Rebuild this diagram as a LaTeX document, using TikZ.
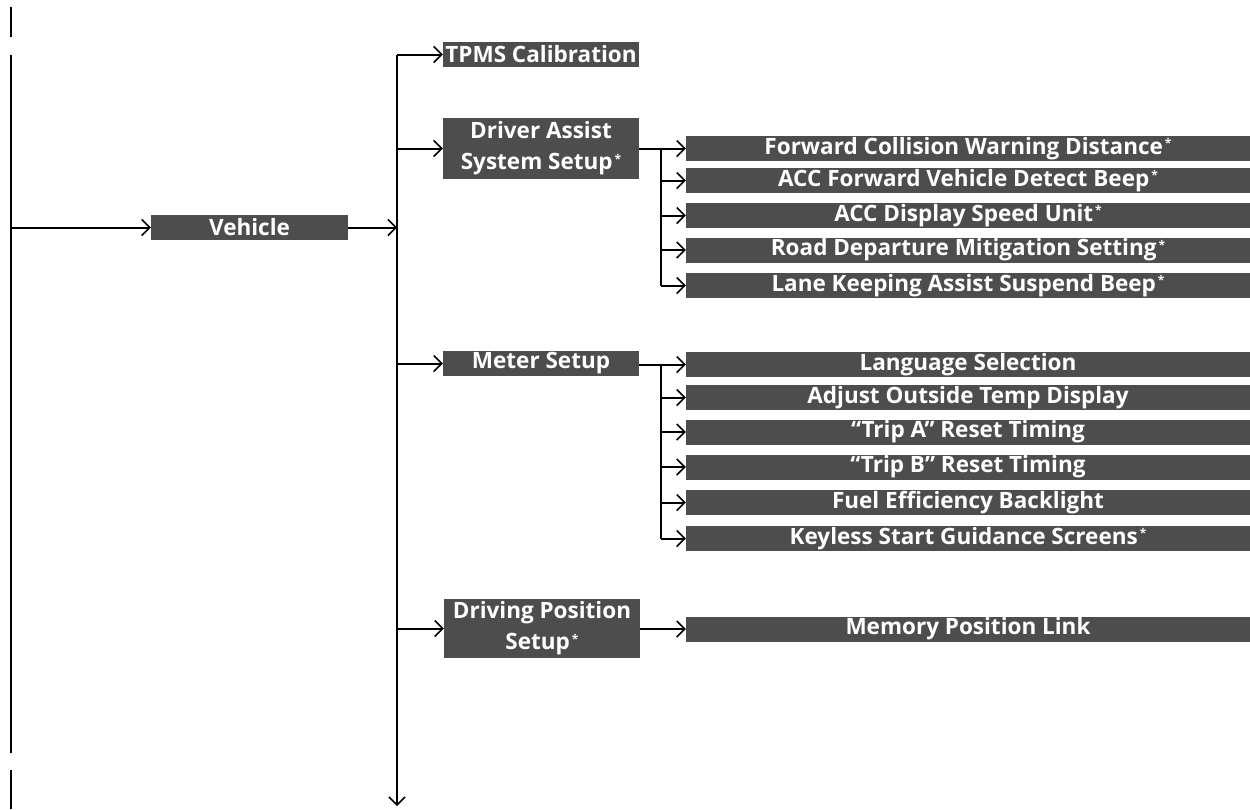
\documentclass[tikz,border=0pt]{standalone}
\usepackage{fontspec}
\setmainfont{Open Sans}
\usetikzlibrary{arrows.meta}
\definecolor{boxgray}{HTML}{4D4D4D}
\tikzset{
  every picture/.style={x=1pt,y=-1pt},
  conn/.style={line width=2pt,draw=black},
  arr/.style={conn,-{Straight Barb[length=8pt,width=16pt,line width=1.5pt]}},
  menubox/.style={fill=boxgray,text=white,inner sep=0pt,font=\fontsize{22.5}{31}\selectfont\bfseries,align=center,minimum height=25pt},
  lvlone/.style={menubox,minimum width=196pt},
  lvltwo/.style={menubox,minimum width=564pt},
}
\newcommand{\opt}{\hspace{2pt}\raisebox{0.55ex}{\fontsize{12}{12}\selectfont *}}
\begin{document}
\begin{tikzpicture}
\useasboundingbox (0,0) rectangle (1250,809);
% page continuation lines
\coordinate (l0a) at (11,7);  \coordinate (l0b) at (11,37);
\coordinate (l1a) at (11,55); \coordinate (l1b) at (11,753);
\coordinate (l2a) at (11,770);\coordinate (l2b) at (11,809);
\draw[conn] (l0a) -- (l0b);
\draw[conn] (l1a) -- (l1b);
\draw[conn] (l2a) -- (l2b);
% nodes
\node[menubox,minimum width=197pt] (veh) at (249.5,227.5) {Vehicle};
\node[lvlone] (tpms) at (541,54.5) {TPMS Calibration};
\node[lvlone,minimum height=61pt] (das) at (541,148.5) {Driver Assist\\System Setup\opt};
\node[lvlone] (met) at (541,363.5) {Meter Setup};
\node[lvlone,minimum height=59pt] (dps) at (542,628.5) {Driving Position\\Setup\opt};
\node[lvltwo] (d1) at (968,148.5) {Forward Collision Warning Distance\opt};
\node[lvltwo] (d2) at (968,180.5) {ACC Forward Vehicle Detect Beep\opt};
\node[lvltwo] (d3) at (968,215.5) {ACC Display Speed Unit\opt};
\node[lvltwo] (d4) at (968,250) {Road Departure Mitigation Setting\opt};
\node[lvltwo] (d5) at (968,285.5) {Lane Keeping Assist Suspend Beep\opt};
\node[lvltwo] (m1) at (968,364.5) {Language Selection};
\node[lvltwo] (m2) at (968,397.5) {Adjust Outside Temp Display};
\node[lvltwo] (m3) at (968,432) {``Trip A'' Reset Timing};
\node[lvltwo] (m4) at (968,467) {``Trip B'' Reset Timing};
\node[lvltwo] (m5) at (968,502.5) {Fuel Efficiency Backlight};
\node[lvltwo] (m6) at (968,538.5) {Keyless Start Guidance Screens\opt};
\node[lvltwo] (p1) at (968,629) {Memory Position Link};
% main connectors
\draw[arr] (l1a |- veh.west) -- (veh.west);
\coordinate (ttop) at (397,54.5);
\coordinate (tbot) at (397,806);
\draw[arr] (veh.east) -- (veh.east -| ttop);
\draw[arr] (ttop) -- (tbot);
\draw[arr] (ttop) -- (tpms.west);
\draw[arr] (ttop |- das.west) -- (das.west);
\draw[arr] (ttop |- met.west) -- (met.west);
\draw[arr] (ttop |- dps.west) -- (dps.west);
% driver assist children
\coordinate (bd) at (661,148.5);
\draw[arr] (das.east) -- (d1.west);
\draw[conn] (bd) -- (bd |- d5.west);
\foreach \n in {d2,d3,d4,d5} \draw[arr] (bd |- \n.west) -- (\n.west);
% meter children
\coordinate (bm) at (661,364.5);
\draw[arr] (met.east |- m1.west) -- (m1.west);
\draw[conn] (bm) -- (bm |- m6.west);
\foreach \n in {m2,m3,m4,m5,m6} \draw[arr] (bm |- \n.west) -- (\n.west);
% driving position child
\draw[arr] (dps.east |- p1.west) -- (p1.west);
\end{tikzpicture}
\end{document}
